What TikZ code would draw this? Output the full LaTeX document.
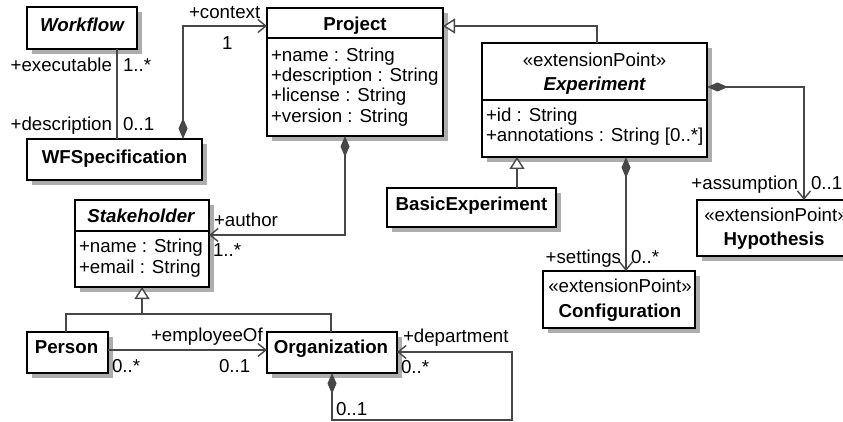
\documentclass[tikz,border=0pt]{standalone}
\usepackage{fontspec}
\setmainfont{Liberation Sans}
\usetikzlibrary{arrows.meta,shadows}
\begin{document}
\begin{tikzpicture}[x=1pt,y=-1pt,
  cls/.style={draw=black, line width=1.8pt, fill=white, inner sep=0pt, outer sep=0pt,
    anchor=north west,
    drop shadow={shadow xshift=5pt, shadow yshift=-5pt, fill=black!32, opacity=1}},
  sepline/.style={draw=black, line width=1.6pt},
  conn/.style={draw=black!72, line width=1.4pt},
  txt/.style={inner sep=0pt, outer sep=0pt, font=\fontsize{18.7}{20}\selectfont},
  lbl/.style={txt, anchor=base west},
  lble/.style={txt, anchor=base east},
  ttl/.style={txt, anchor=base, font=\fontsize{18.7}{20}\selectfont\bfseries},
  ttli/.style={txt, anchor=base, font=\fontsize{18.7}{20}\selectfont\bfseries\itshape},
  stereo/.style={txt, anchor=base},
  comp/.tip={Diamond[length=21pt,width=9pt]},
  nav/.tip={Straight Barb[length=8pt,width=13pt]},
  gen/.tip={Triangle[length=12pt,width=15pt,fill=white]}
]
\useasboundingbox (0,0) rectangle (843,422);
\fill[white] (0,0) rectangle (843,422);
\clip (0,0) rectangle (843,422);

% ---------- classes ----------
\node[cls, minimum width=110pt, minimum height=42pt] (wf) at (27,7) {};
\node[ttli] (wfT) at (82,32) {Workflow};

\node[cls, minimum width=176pt, minimum height=128pt] (proj) at (267,8) {};
\draw[sepline] (proj.west |- 0,38) -- (proj.east |- 0,38);
\node[ttl] (projT) at (355,31) {Project};
\node[lbl] (projA1) at (271,61.7) {+name : String};
\node[lbl] (projA2) at (271,82) {+description : String};
\node[lbl] (projA3) at (271,102) {+license : String};
\node[lbl] (projA4) at (271,122.3) {+version : String};

\node[cls, minimum width=175pt, minimum height=41pt] (wfs) at (27,139) {};
\node[ttl] (wfsT) at (114.5,163.3) {WFSpecification};

\node[cls, minimum width=225pt, minimum height=114pt] (exp) at (482,43) {};
\draw[sepline] (exp.west |- 0,100) -- (exp.east |- 0,100);
\node[stereo] (expS) at (594.5,66.7) {«extensionPoint»};
\node[ttli] (expT) at (594.5,91) {Experiment};
\node[lbl] (expA1) at (486,121.7) {+id : String};
\node[lbl] (expA2) at (486,142) {+annotations : String [0..*]};

\node[cls, minimum width=169pt, minimum height=39pt] (bexp) at (387,188) {};
\node[ttl] (bexpT) at (471.5,210.7) {BasicExperiment};

\node[cls, minimum width=134pt, minimum height=87pt] (stk) at (75,200) {};
\draw[sepline] (stk.west |- 0,231) -- (stk.east |- 0,231);
\node[ttli] (stkT) at (141,222.7) {Stakeholder};
\node[lbl] (stkA1) at (79,252.5) {+name : String};
\node[lbl] (stkA2) at (79,273) {+email : String};

\node[cls, minimum width=81pt, minimum height=41pt] (per) at (27,332) {};
\node[ttl] (perT) at (66.5,353.3) {Person};

\node[cls, minimum width=130pt, minimum height=41pt] (org) at (267,332) {};
\node[ttl] (orgT) at (331,353.3) {Organization};

\node[cls, minimum width=158pt, minimum height=56pt] (hyp) at (697,200) {};
\node[stereo] (hypS) at (776,221.7) {«extensionPoint»};
\node[ttl] (hypT) at (774,245) {Hypothesis};

\node[cls, minimum width=152pt, minimum height=57pt] (cfg) at (543,271) {};
\node[stereo] (cfgS) at (620,292.7) {«extensionPoint»};
\node[ttl] (cfgT) at (620,317.3) {Configuration};

% ---------- associations ----------
% Workflow -- WFSpecification
\draw[conn] (117,0 |- wf.south) -- (117,0 |- wfs.north);
\node[lble] (lExe) at (112,71.7) {+executable};
\node[lbl] (mExe) at (123,71.7) {1..*};
\node[lble] (lDesc) at (112,130.7) {+description};
\node[lbl] (mDesc) at (123,130.7) {0..1};

% WFSpecification -> Project (context)
\draw[conn, comp-nav] (183,0 |- wfs.north) |- (proj.west |- 0,26);
\node[lbl] (lCtx) at (189,18.3) {+context};
\node[lbl] (mCtx) at (222,49.3) {1};

% Experiment generalizes Project
\draw[conn, -gen] (597,0 |- exp.north) |- (proj.east |- 0,26);

% Project -> Stakeholder (author)
\draw[conn, comp-nav] (345,0 |- proj.south) |- (stk.east |- 0,235);
\node[lbl] (lAut) at (214,226.7) {+author};
\node[lbl] (mAut) at (213,256) {1..*};

% BasicExperiment generalizes Experiment
\draw[conn, -gen] (517,0 |- bexp.north) -- (517,0 |- exp.south);

% Experiment -> Configuration (settings)
\draw[conn, comp-nav] (626,0 |- exp.south) -- (626,0 |- cfg.north);
\node[lble] (lSet) at (621,263.3) {+settings};
\node[lbl] (mSet) at (631,263.3) {0..*};

% Experiment -> Hypothesis (assumption)
\draw[conn, comp-nav] (exp.east |- 0,87) -| (804,0 |- hyp.north);
\node[lble] (lAss) at (798,189.3) {+assumption};
\node[lbl] (mAss) at (811,189.3) {0..1};

% Person, Organization generalize Stakeholder
\coordinate (gj) at (142,314);
\draw[conn, -gen] (gj) -- (gj |- stk.south);
\draw[conn] (66,0 |- per.north) |- (331,314) -- (331,0 |- org.north);

% Person -> Organization (employeeOf)
\draw[conn, -nav] (per.east |- 0,350) -- (org.west |- 0,350);
\node[lbl] (lEmp) at (151,341) {+employeeOf};
\node[lbl] (mEmpA) at (112,372.7) {0..*};
\node[lbl] (mEmpB) at (219,372.7) {0..1};

% Organization -> Organization (department)
\coordinate (dA) at (332,420);
\coordinate (dB) at (512,352);
\draw[conn, comp-nav] (dA |- org.south) -- (dA) -| (dB) -- (org.east |- dB);
\node[lbl] (lDep) at (403,342.7) {+department};
\node[lbl] (mDepA) at (401,373.3) {0..*};
\node[lbl] (mDepB) at (336,415) {0..1};
\end{tikzpicture}
\end{document}
